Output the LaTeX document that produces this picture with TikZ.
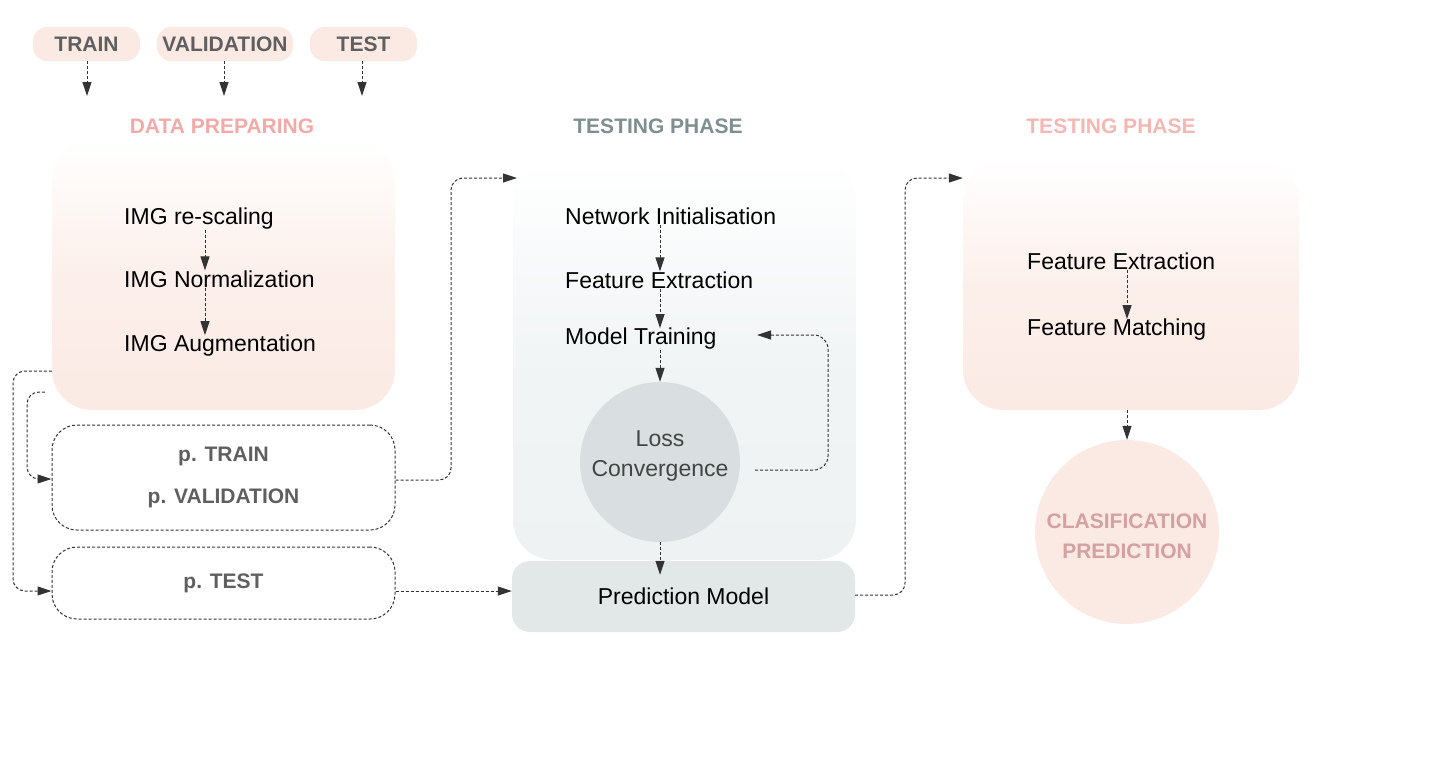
\documentclass[tikz,border=0pt]{standalone}
\usepackage{fontspec}
\setmainfont{Liberation Sans}
\usetikzlibrary{arrows.meta,calc}
\definecolor{pinkfill}{HTML}{FBEAE4}
\definecolor{greyfill}{HTML}{EEF2F3}
\definecolor{lossfill}{HTML}{D9DFE0}
\definecolor{predfill}{HTML}{E2E7E7}
\definecolor{labgrey}{HTML}{5F5F5F}
\definecolor{darkgrey}{HTML}{444444}
\definecolor{linegrey}{HTML}{333333}
\definecolor{pinktitle}{HTML}{F2AAA9}
\definecolor{rosetitle}{HTML}{F4B7B4}
\definecolor{greytitle}{HTML}{7F8E8E}
\definecolor{pinktext}{HTML}{D4A0A0}
\begin{document}
\begin{tikzpicture}[x=1pt,y=-1pt,line join=round,
 flow/.style={draw=linegrey,line width=1pt,dash pattern=on 3pt off 2pt,-{Triangle[length=14pt,width=9pt]}},
 pill/.style={fill=pinkfill,rounded corners=14pt,minimum width=107pt,minimum height=34pt,text=labgrey,font=\bfseries\fontsize{21}{25}\selectfont},
 title/.style={font=\bfseries\fontsize{21}{25}\selectfont},
 item/.style={anchor=west,inner sep=0pt,font=\fontsize{23}{27}\selectfont},
 panel/.style={rounded corners=40pt,minimum width=343pt,inner sep=0pt},
 split/.style={draw=linegrey,line width=1pt,dash pattern=on 3pt off 2pt,rounded corners=25pt,minimum width=343pt,text=labgrey,align=center,font=\bfseries\fontsize{21}{42}\selectfont}]
 \useasboundingbox (0,0) rectangle (1435,780);

 % data sets
 \node[pill] (train) at (86.5,44) {TRAIN};
 \node[pill,minimum width=136pt] (valid) at (225,44) {VALIDATION};
 \node[pill] (test) at (363.5,44) {TEST};
 \coordinate (trainin) at (87,96);
 \coordinate (validin) at (224,96);
 \coordinate (testin) at (362,96);
 \draw[flow] (train.south -| trainin) -- (trainin);
 \draw[flow] (valid.south -| validin) -- (validin);
 \draw[flow] (test.south -| testin) -- (testin);

 % data preparing
 \node[panel,minimum height=270pt,top color=white,bottom color=pinkfill,middle color=pinkfill!75!white] (prep) at (223.5,275) {};
 \node[title,text=pinktitle] (preptitle) at (222,126) {DATA PREPARING};
 \node[item] (rescale) at (124,219) {IMG re-scaling};
 \node[item] (normal) at (124,279) {IMG Normalization};
 \node[item] (augment) at (124,346) {IMG Augmentation};
 \draw[flow] ([xshift=81pt]rescale.south west) -- ([xshift=81pt]normal.north west);
 \draw[flow] ([xshift=81pt]normal.south west) -- ([xshift=81pt]augment.north west);

 \node[split,minimum height=105pt] (ptv) at (223.5,477.5) {p. TRAIN\\p. VALIDATION};
 \node[split,minimum height=72pt] (ptest) at (223.5,583) {p. TEST};
 \draw[flow,rounded corners=12pt] (prep.west |- 0,371) -- (13,371) |- (ptest.west |- 0,591);
 \draw[flow,rounded corners=12pt] (45,392) -- (27,392) |- (ptv.west |- 0,479);

 % training
 \node[panel,minimum height=400pt,top color=white,bottom color=greyfill,middle color=greyfill!80!white] (trainpanel) at (684.5,360) {};
 \node[title,text=greytitle] (traintitle) at (658,126) {TESTING PHASE};
 \node[item] (netinit) at (565,216) {Network Initialisation};
 \node[item] (featext) at (565,280) {Feature Extraction};
 \node[item] (modtrain) at (565,339) {Model Training};
 \node[circle,fill=lossfill,minimum size=160pt] (loss) at (660,462) {};
 \node[align=center,text=darkgrey,font=\fontsize{23}{30}\selectfont] (losstext) at (660,456) {Loss\\Convergence};
 \node[fill=predfill,rounded corners=18pt,minimum width=343pt,minimum height=71pt,font=\fontsize{23}{27}\selectfont] (predict) at (683.5,596.5) {Prediction Model};
 \draw[flow] ([xshift=95pt]netinit.south west) -- ([xshift=95pt]featext.north west);
 \draw[flow] ([xshift=95pt]featext.south west) -- ([xshift=95pt]modtrain.north west);
 \draw[flow] ([xshift=95pt]modtrain.south west) -- (loss.north);
 \draw[flow] (loss.south) -- ($(loss.south |- predict.north)+(0,14)$);
 \coordinate (lossout) at (755,470);
 \coordinate (trainback) at (757,335);
 \draw[flow,rounded corners=14pt] (lossout) -- ++(73,0) |- (trainback);

 \coordinate (trainin2) at (517,178);
 \draw[flow,rounded corners=12pt] (ptv.east |- 0,480) -- (451,480) |- (trainin2);
 \draw[flow] (ptest.east |- 0,591) -- (predict.west |- 0,591);

 % testing
 \node[panel,minimum width=336pt,minimum height=250pt,top color=white,bottom color=pinkfill,middle color=pinkfill!75!white] (matchpanel) at (1131,285) {};
 \node[title,text=rosetitle] (matchtitle) at (1111,126) {TESTING PHASE};
 \node[item] (rfeat) at (1027,261) {Feature Extraction};
 \node[item] (rmatch) at (1027,330) {Feature Matching};
 \draw[flow] ([xshift=100pt]rfeat.south west) -- ([xshift=100pt]rmatch.north west);
 \node[circle,fill=pinkfill,minimum size=184pt] (classify) at (1127,532) {};
 \node[align=center,text=pinktext,font=\bfseries\fontsize{21}{30}\selectfont] (classtext) at (1127,536) {CLASIFICATION\\PREDICTION};
 \draw[flow] (classify.north |- matchpanel.south) -- (classify.north);
 \draw[flow,rounded corners=12pt] (predict.east |- 0,595) -- (905,595) |- (matchpanel.west |- 0,178);
\end{tikzpicture}
\end{document}
